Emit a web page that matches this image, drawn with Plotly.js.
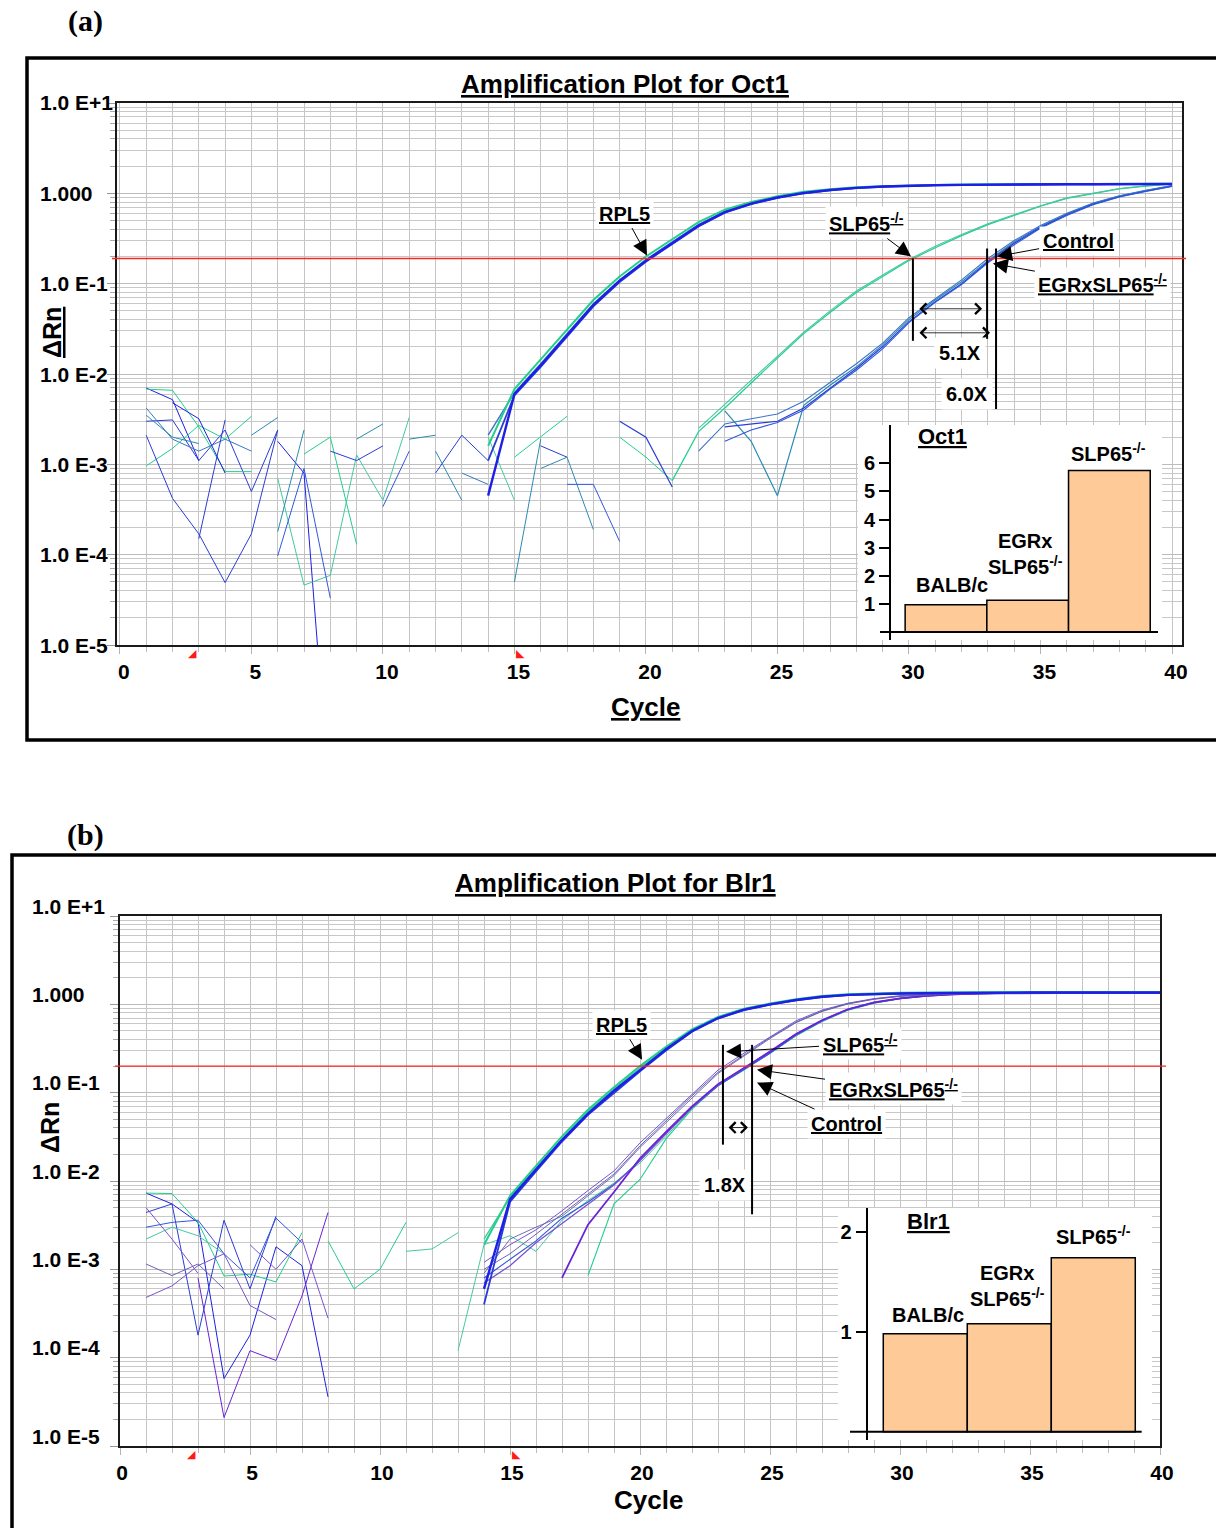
<!DOCTYPE html>
<html><head><meta charset="utf-8">
<script src="https://cdn.plot.ly/plotly-3.0.1.min.js"></script>
<style>html,body{margin:0;padding:0;background:#fff}#chart{width:1216px;height:1528px}</style>
</head><body><div id="chart"></div>
<script>
const N = null;
// ---------- DATA ----------
const cycles = [1,2,3,4,5,6,7,8,9,10,11,12,13,14,15,16,17,18,19,20,21,22,23,24,25,26,27,28,29,30,31,32,33,34,35,36,37,38,39,40];
const yTickVals = [1e-5, 1e-4, 1e-3, 1e-2, 1e-1, 1, 10];
const yTickText = ['1.0 E-5','1.0 E-4','1.0 E-3','1.0 E-2','1.0 E-1','1.000','1.0 E+1'];
const thresholds = [0.19, 0.20];          // panel a, panel b
const baselineCycles = [3, 15];
const ctCyclesA = [30.15, 32.97, 33.31];  // SLP65, EGRxSLP65, Control
const ctCyclesB = [23.19, 24.31];         // SLP65, Control/EGR
const insetGroups = ['BALB/c', 'EGRx SLP65-/-', 'SLP65-/-'];
const insetOct1 = [0.97, 1.13, 5.74];
const insetBlr1 = [0.98, 1.08, 1.74];

// Panel (a) amplification curves (one value per cycle)
const aRpl5Blue1 = [N,N,N,N,N,N,N,N,N,N,
 N,N,N,0.00045,0.0060,0.0125,0.027,0.058,0.108,0.180,
 0.28,0.44,0.62,0.77,0.90,1.01,1.09,1.15,1.19,1.22,
 1.23,1.24,1.25,1.25,1.26,1.26,1.26,1.26,1.27,1.27];
const aRpl5Blue2 = [N,N,N,N,N,N,N,N,N,N,
 N,N,N,0.0011,0.0058,0.0120,0.026,0.056,0.104,0.175,
 0.275,0.43,0.61,0.76,0.89,1.00,1.08,1.14,1.18,1.21,
 1.23,1.24,1.25,1.25,1.26,1.26,1.26,1.26,1.27,1.27];
const aRpl5Green = [N,N,N,N,N,N,N,N,N,N,
 N,N,N,0.0016,0.0068,0.0145,0.031,0.066,0.12,0.20,
 0.31,0.48,0.66,0.80,0.93,1.04,1.11,1.17,1.20,1.23,
 1.24,1.25,1.26,1.26,1.27,1.27,1.27,1.27,1.28,1.28];
const aRpl5Teal = [N,N,N,N,N,N,N,N,N,N,
 N,N,N,0.0021,0.0062,0.0130,0.028,0.060,0.110,0.185,
 0.29,0.45,0.63,0.78,0.91,1.02,1.10,1.15,1.19,1.22,
 1.23,1.24,1.25,1.25,1.26,1.26,1.26,1.26,1.27,1.27];
const aSlp1 = [N,N,N,N,N,N,N,N,N,N,
 N,N,N,N,N,N,N,N,N,N,
 0.00066,0.0023,0.0042,0.0080,0.0150,0.028,0.048,0.080,0.120,0.180,
 0.25,0.34,0.45,0.57,0.72,0.88,1.00,1.12,1.20,1.27];
const aSlp2 = [N,N,N,N,N,N,N,N,N,N,
 N,N,N,N,N,N,N,N,N,N,
 N,0.0025,0.0046,0.0085,0.0155,0.029,0.050,0.083,0.125,0.185,
 0.26,0.35,0.46,0.58,0.73,0.89,1.01,1.13,1.21,1.28];
const aCtl1 = [N,N,N,N,N,N,N,N,N,N,
 N,N,N,N,N,N,N,N,N,N,
 N,N,0.0039,0.0018,0.00045,0.0045,0.0075,0.012,0.021,0.040,
 0.066,0.105,0.18,0.29,0.43,0.59,0.77,0.93,1.07,1.21];
const aCtl2 = [N,N,N,N,N,N,N,N,N,N,
 N,N,N,N,N,N,N,N,0.0030,0.0020,
 0.00056,N,0.0026,0.0028,0.0030,0.0042,0.0070,0.0115,0.020,0.038,
 0.063,0.100,0.175,0.28,0.42,0.58,0.76,0.92,1.06,1.20];
const aCtl3 = [N,N,N,N,N,N,N,N,N,N,
 N,N,N,N,N,N,N,N,N,N,
 N,0.0014,0.0028,0.0032,0.0036,0.0050,0.0080,0.013,0.022,0.042,
 0.068,0.110,0.19,0.30,0.44,0.60,0.78,0.94,1.08,1.22];
const aCtl4 = [N,N,N,N,N,N,N,N,N,N,
 N,N,N,N,N,N,N,N,N,N,
 N,N,0.0018,0.0024,0.0029,0.0040,0.0068,0.011,0.019,0.037,
 0.062,0.098,0.17,0.27,0.41,0.57,0.75,0.91,1.05,1.19];
// Panel (a) baseline noise
const aNoise1 = [0.0070,0.0052,0.0011,N,N,0.0018,0.0008,1.5e-7,N,N, N,N,N,N,N,N,N,N,N,N, N,N,N,N,N,N,N,N,N,N, N,N,N,N,N,N,N,N,N,N];
const aNoise2 = [0.0030,0.0031,0.0011,0.0024,0.0005,0.0024,N,N,N,N, N,0.0008,0.0021,0.0011,N,N,N,N,N,N, N,N,N,N,N,N,N,N,N,N, N,N,N,N,N,N,N,N,N,N];
const aNoise3 = [0.0068,0.0066,0.0026,0.00083,0.00083,N,N,N,N,N, N,N,N,N,N,N,N,N,N,N, N,N,N,N,N,N,N,N,N,N, N,N,N,N,N,N,N,N,N,N];
const aNoise4 = [0.0042,0.0019,0.0014,0.0019,0.0014,N,N,N,N,N, N,N,0.0008,0.0006,N,N,N,N,N,N, N,N,N,N,N,N,N,N,N,N, N,N,N,N,N,N,N,N,N,N];
const aNoise5 = [0.00096,0.0015,0.0027,0.0019,0.0034,N,0.0013,0.0020,0.00013,N, N,N,N,N,0.0012,0.0020,0.0034,N,0.0020,0.0012, 0.00066,N,N,N,N,N,N,N,N,N, N,N,N,N,N,N,N,N,N,N];
const aNoise6 = [N,N,N,N,N,0.0007,0.000046,0.000059,0.00127,0.0004, 0.0033,N,N,0.0020,0.0004,N,N,N,N,N, N,N,N,N,N,N,N,N,N,N, N,N,N,N,N,N,N,N,N,N];
const aNoise7 = [0.0035,0.0020,0.0017,N,N,N,N,N,0.0019,0.0028, N,N,N,N,N,N,N,N,N,N, N,N,N,N,N,N,N,N,N,N, N,N,N,N,N,N,N,N,N,N];
const aNoise8 = [0.0021,0.00042,0.00017,0.000049,0.00017,0.0024,N,0.0014,0.0011,0.0016, N,N,N,N,N,0.0016,0.0012,N,N,N, N,N,N,N,N,N,N,N,N,N, N,N,N,N,N,N,N,N,N,N];
const aNoise9 = [N,N,N,N,0.0021,0.0033,N,N,N,N, 0.0019,0.0021,N,N,N,0.0009,0.0012,0.00019,N,N, N,N,N,N,N,N,N,N,N,N, N,N,N,N,N,N,N,N,N,N];
const aNoise10 = [N,N,N,N,N,0.000097,0.0009,0.000033,N,0.00034, 0.0014,N,N,N,N,N,0.0006,0.0006,0.00014,N, N,N,N,N,N,N,N,N,N,N, N,N,N,N,N,N,N,N,N,N];
const aNoise11 = [N,N,N,N,N,0.00018,0.0024,N,N,N, N,0.0014,0.0004,N,0.00005,0.0019,N,N,N,N, N,N,N,N,N,N,N,N,N,N, N,N,N,N,N,N,N,N,N,N];
const aNoise12 = [N,0.0048,0.0032,0.0008,N,N,N,N,N,N, N,N,N,N,N,N,N,N,N,N, N,N,N,N,N,N,N,N,N,N, N,N,N,N,N,N,N,N,N,N];
const aNoise13 = [N,N,0.00015,0.0031,N,N,N,N,N,N, N,N,N,N,N,N,N,N,N,N, N,N,N,N,N,N,N,N,N,N, N,N,N,N,N,N,N,N,N,N];

// Panel (b) amplification curves
const bRpl5Blue1 = [N,N,N,N,N,N,N,N,N,N,
 N,N,N,0.0006,0.0062,0.0135,0.029,0.058,0.105,0.18,
 0.31,0.50,0.70,0.87,1.00,1.12,1.22,1.28,1.31,1.33,
 1.34,1.35,1.35,1.35,1.36,1.36,1.36,1.36,1.36,1.36];
const bRpl5Green = [N,N,N,N,N,N,N,N,N,N,
 N,N,N,0.0019,0.0068,0.0148,0.032,0.064,0.115,0.20,
 0.33,0.52,0.72,0.89,1.02,1.14,1.24,1.30,1.33,1.35,
 1.36,1.37,1.37,1.38,1.38,1.38,1.38,1.38,1.38,1.38];
const bRpl5Blue2 = [N,N,N,N,N,N,N,N,N,N,
 N,N,N,0.0004,0.0058,0.0128,0.028,0.056,0.100,0.175,
 0.30,0.49,0.69,0.86,0.99,1.11,1.21,1.27,1.30,1.32,
 1.33,1.34,1.34,1.35,1.35,1.35,1.35,1.35,1.35,1.35];
const bRpl5Teal = [N,N,N,N,N,N,N,N,N,N,
 N,N,N,0.0022,0.0065,0.0140,0.030,0.061,0.110,0.19,
 0.32,0.51,0.71,0.88,1.01,1.13,1.23,1.29,1.32,1.34,
 1.35,1.36,1.36,1.37,1.37,1.37,1.37,1.37,1.37,1.37];
const bSlp1 = [N,N,N,N,N,N,N,N,N,N,
 N,N,N,0.0010,0.0015,0.0025,0.0042,0.0070,0.012,0.025,
 0.048,0.092,0.17,0.27,0.42,0.63,0.84,1.02,1.15,1.24,
 1.29,1.32,1.34,1.35,1.35,1.36,1.36,1.36,1.36,1.36];
const bSlp2 = [N,N,N,N,N,N,N,N,N,N,
 N,N,N,0.0012,0.0019,0.0028,0.0046,0.0078,0.013,0.027,
 0.051,0.096,0.18,0.28,0.43,0.65,0.86,1.03,1.16,1.25,
 1.30,1.33,1.35,1.36,1.36,1.37,1.37,1.37,1.37,1.37];
const bSlp3 = [N,N,N,N,N,N,N,N,N,N,
 N,N,N,0.0009,0.0022,0.0030,0.0040,0.0068,0.0115,0.024,
 0.046,0.088,0.165,0.26,0.41,0.62,0.83,1.01,1.14,1.23,
 1.28,1.31,1.33,1.34,1.34,1.35,1.35,1.35,1.35,1.35];
const bCtl1 = [N,N,N,N,N,N,N,N,N,N,
 N,N,N,N,N,N,0.0008,0.0032,0.0075,0.018,
 0.036,0.070,0.125,0.19,0.29,0.46,0.66,0.88,1.05,1.17,
 1.25,1.30,1.33,1.35,1.36,1.36,1.36,1.36,1.36,1.36];
const bCtl2 = [N,N,N,N,N,N,N,N,N,N,
 N,N,N,N,N,N,N,0.00085,0.0055,0.0104,
 0.030,0.065,0.12,0.185,0.28,0.44,0.64,0.86,1.03,1.16,
 1.25,1.31,1.35,1.37,1.38,1.38,1.38,1.38,1.38,1.38];
const bCtl3 = [N,N,N,N,N,N,N,N,N,N,
 N,N,0.00012,0.0019,0.0024,0.0016,0.0036,0.0060,0.0095,0.016,
 0.032,0.066,0.12,0.18,0.28,0.44,0.64,0.86,1.04,1.17,
 1.26,1.32,1.35,1.37,1.38,1.38,1.38,1.38,1.38,1.38];
const bCtl4 = [N,N,N,N,N,N,N,N,N,N,
 N,N,N,0.0008,0.0013,0.0021,0.0038,0.0058,0.0092,0.017,
 0.035,0.068,0.12,0.185,0.28,0.45,0.65,0.87,1.04,1.16,
 1.24,1.29,1.32,1.33,1.34,1.34,1.34,1.34,1.34,1.34];
const bCtl5 = [N,N,N,N,N,N,N,N,N,N,
 N,N,N,0.0007,0.0011,0.0020,0.0033,0.0055,0.0090,0.017,
 0.034,0.068,0.122,0.19,0.29,0.46,0.66,0.88,1.05,1.17,
 1.25,1.30,1.32,1.33,1.33,1.33,1.33,1.33,1.33,1.33];
// Panel (b) baseline noise
const bNoise1 = [0.0073,0.0055,0.0034,0.000058,0.00018,0.0018,0.0011,0.000036,N,N, N,N,N,N,N,N,N,N,N,N, N,N,N,N,N,N,N,N,N,N, N,N,N,N,N,N,N,N,N,N];
const bNoise2 = [0.0073,0.0072,0.0034,0.00084,0.00088,0.00072,0.0026,N,N,N, N,N,N,N,N,N,N,N,N,N, N,N,N,N,N,N,N,N,N,N, N,N,N,N,N,N,N,N,N,N];
const bNoise3 = [0.0044,0.0055,0.00018,0.0036,0.0006,0.0040,N,N,N,N, N,N,N,N,N,N,N,N,N,N, N,N,N,N,N,N,N,N,N,N, N,N,N,N,N,N,N,N,N,N];
const bNoise4 = [0.0022,0.0030,0.0024,0.0015,N,N,N,N,N,N, N,N,N,N,N,N,N,N,N,N, N,N,N,N,N,N,N,N,N,N, N,N,N,N,N,N,N,N,N,N];
const bNoise5 = [0.00115,0.00085,0.00115,0.0006,N,N,N,N,N,N, N,N,N,N,N,N,N,N,N,N, N,N,N,N,N,N,N,N,N,N, N,N,N,N,N,N,N,N,N,N];
const bNoise6 = [0.00048,0.00065,0.0011,0.0015,0.00039,0.00027,N,N,N,N, N,N,N,N,N,N,N,N,N,N, N,N,N,N,N,N,N,N,N,N, N,N,N,N,N,N,N,N,N,N];
const bNoise7 = [N,N,0.0008,0.000021,0.00012,0.000093,0.0005,0.0044,N,N, N,N,N,N,N,N,N,N,N,N, N,N,N,N,N,N,N,N,N,N, N,N,N,N,N,N,N,N,N,N];
const bNoise8 = [0.0050,0.0022,0.0009,N,0.0019,0.0010,0.0022,0.00028,N,N, N,N,N,N,N,N,N,N,N,N, N,N,N,N,N,N,N,N,N,N, N,N,N,N,N,N,N,N,N,N];
const bNoise9 = [N,N,N,N,N,N,N,0.0021,0.0006,0.0010, 0.0034,N,N,N,N,N,N,N,N,N, N,N,N,N,N,N,N,N,N,N, N,N,N,N,N,N,N,N,N,N];
const bNoise10 = [N,N,N,N,N,N,N,N,N,N, 0.0016,0.0017,0.0026,N,N,N,N,N,N,N, N,N,N,N,N,N,N,N,N,N, N,N,N,N,N,N,N,N,N,N];
const bNoise11 = [0.0030,0.0034,0.0036,0.0015,0.0008,0.0038,0.0020,N,N,N, N,N,N,N,N,N,N,N,N,N, N,N,N,N,N,N,N,N,N,N, N,N,N,N,N,N,N,N,N,N];

// ---------- LAYOUT HELPERS ----------
const W = 1216, H = 1528;
const fx = p => p / W;
const fy = p => 1 - p / H;
const FONT = 'Liberation Sans, Arial, Helvetica, sans-serif';
const SERIF = 'Liberation Serif, Times New Roman, serif';
const F = (size, extra) => Object.assign({family: FONT, size: size, color: '#000', weight: 'bold'}, extra || {});

const C = {
  blue: '#1d1fe4', blue2: '#2b3cd6', blue3: '#3058de', green: '#21cf8b', green2: '#45c8a3',
  teal: '#2a8ab2', teal2: '#3a74c6', purple: '#6a22d6', purple2: '#7a52d0', slate: '#6a64b6', slate2: '#5f60a8'
};

function curve(name, vals, xa, ya, color, width) {
  if (vals.length !== cycles.length) throw new Error('length mismatch in ' + name + ': ' + vals.length);
  return {type: 'scatter', mode: 'lines', name: name, x: cycles, y: vals, xaxis: xa, yaxis: ya,
    line: {color: color, width: width}, connectgaps: false, hoverinfo: 'skip', showlegend: false};
}

const traces = [
  // panel a noise
  curve('aNoise1', aNoise1, 'x', 'y', C.blue, 1),
  curve('aNoise2', aNoise2, 'x', 'y', C.blue2, 1),
  curve('aNoise3', aNoise3, 'x', 'y', C.green, 1),
  curve('aNoise4', aNoise4, 'x', 'y', C.teal2, 1),
  curve('aNoise5', aNoise5, 'x', 'y', C.green, 1),
  curve('aNoise6', aNoise6, 'x', 'y', C.green2, 1),
  curve('aNoise7', aNoise7, 'x', 'y', C.teal, 1),
  curve('aNoise8', aNoise8, 'x', 'y', C.blue2, 1),
  curve('aNoise9', aNoise9, 'x', 'y', C.teal, 1),
  curve('aNoise10', aNoise10, 'x', 'y', C.blue3, 1),
  curve('aNoise11', aNoise11, 'x', 'y', C.teal, 1),
  curve('aNoise12', aNoise12, 'x', 'y', C.blue, 1),
  curve('aNoise13', aNoise13, 'x', 'y', C.blue2, 1),
  // panel a curves
  curve('aCtl1', aCtl1, 'x', 'y', C.teal, 1.2),
  curve('aCtl2', aCtl2, 'x', 'y', C.blue2, 1.2),
  curve('aCtl3', aCtl3, 'x', 'y', C.teal2, 1.1),
  curve('aCtl4', aCtl4, 'x', 'y', C.blue3, 1.1),
  curve('aSlp1', aSlp1, 'x', 'y', C.green, 1.2),
  curve('aSlp2', aSlp2, 'x', 'y', C.green2, 1.1),
  curve('aRpl5Teal', aRpl5Teal, 'x', 'y', C.teal2, 1.4),
  curve('aRpl5Green', aRpl5Green, 'x', 'y', C.green, 2),
  curve('aRpl5Blue2', aRpl5Blue2, 'x', 'y', C.blue2, 1.8),
  curve('aRpl5Blue1', aRpl5Blue1, 'x', 'y', C.blue, 2.4),
  // panel b noise
  curve('bNoise1', bNoise1, 'x2', 'y2', C.blue, 1),
  curve('bNoise2', bNoise2, 'x2', 'y2', C.green, 1),
  curve('bNoise3', bNoise3, 'x2', 'y2', C.blue2, 1),
  curve('bNoise4', bNoise4, 'x2', 'y2', C.green2, 1),
  curve('bNoise5', bNoise5, 'x2', 'y2', C.slate, 1),
  curve('bNoise6', bNoise6, 'x2', 'y2', C.purple2, 1),
  curve('bNoise7', bNoise7, 'x2', 'y2', C.purple, 1),
  curve('bNoise8', bNoise8, 'x2', 'y2', C.purple2, 1),
  curve('bNoise9', bNoise9, 'x2', 'y2', C.green, 1),
  curve('bNoise10', bNoise10, 'x2', 'y2', C.green2, 1),
  curve('bNoise11', bNoise11, 'x2', 'y2', C.blue3, 1),
  // panel b curves
  curve('bCtl2', bCtl2, 'x2', 'y2', C.green, 1.1),
  curve('bCtl3', bCtl3, 'x2', 'y2', C.green2, 1.0),
  curve('bCtl4', bCtl4, 'x2', 'y2', C.blue3, 1.2),
  curve('bCtl5', bCtl5, 'x2', 'y2', C.purple2, 1.3),
  curve('bCtl1', bCtl1, 'x2', 'y2', C.purple, 1.8),
  curve('bSlp1', bSlp1, 'x2', 'y2', C.slate, 1.0),
  curve('bSlp2', bSlp2, 'x2', 'y2', C.purple2, 1.0),
  curve('bSlp3', bSlp3, 'x2', 'y2', C.slate2, 0.9),
  curve('bRpl5Teal', bRpl5Teal, 'x2', 'y2', C.green2, 1.4),
  curve('bRpl5Green', bRpl5Green, 'x2', 'y2', C.green, 2),
  curve('bRpl5Blue2', bRpl5Blue2, 'x2', 'y2', C.blue2, 1.8),
  curve('bRpl5Blue1', bRpl5Blue1, 'x2', 'y2', C.blue, 2.4),
  // insets
  {type: 'bar', x: insetGroups, y: insetOct1, xaxis: 'x3', yaxis: 'y3', width: 1,
   marker: {color: '#fdca98', line: {color: '#000', width: 1.5}}, hoverinfo: 'skip', showlegend: false},
  {type: 'bar', x: insetGroups, y: insetBlr1, xaxis: 'x4', yaxis: 'y4', width: 1,
   marker: {color: '#fdca98', line: {color: '#000', width: 1.5}}, hoverinfo: 'skip', showlegend: false}
];

function mainX(domain, range, anchor, shift) {
  return {domain: domain, range: range, anchor: anchor, dtick: 5, tick0: 0,
    showgrid: true, gridcolor: '#c4c4c4', gridwidth: 1, zeroline: false,
    ticks: 'outside', ticklen: 7, tickcolor: '#b4b4b4', tickwidth: 1,
    minor: {dtick: 1, showgrid: true, gridcolor: '#c4c4c4', gridwidth: 1, ticks: 'outside', ticklen: 5, tickcolor: '#bdbdbd'},
    showline: true, linecolor: '#1a1a1a', linewidth: 2, mirror: true,
    tickfont: F(21), ticklabelshift: shift};
}
function mainY(domain, anchor) {
  return {domain: domain, type: 'log', range: [-5, 1], anchor: anchor, dtick: 1,
    showgrid: true, gridcolor: '#bcbcbc', gridwidth: 1, zeroline: false,
    ticks: 'outside', ticklen: 8, tickcolor: '#999', showticklabels: false,
    minor: {dtick: 'D1', showgrid: true, gridcolor: '#c8c8c8', gridwidth: 1, ticks: 'outside', ticklen: 5, tickcolor: '#aaa'},
    showline: true, linecolor: '#1a1a1a', linewidth: 2, mirror: true};
}
function insetY(domain, range, pos, tv) {
  return {domain: domain, range: range, anchor: 'free', position: pos, showgrid: false, zeroline: false,
    showline: true, linecolor: '#000', linewidth: 2, ticks: 'outside', ticklen: 10, tickwidth: 2, tickcolor: '#000',
    tickvals: tv, tickfont: F(20)};
}

const layout = {
  width: W, height: H, autosize: false,
  margin: {l: 0, r: 0, t: 0, b: 0, pad: 0},
  paper_bgcolor: '#fff', plot_bgcolor: '#ffffff',
  font: {family: FONT, color: '#000'},
  showlegend: false,
  xaxis: mainX([fx(117), fx(1182)], [-0.11, 40.38], 'y', 4),
  yaxis: mainY([fy(645), fy(103)], 'x'),
  xaxis2: mainX([fx(120), fx(1160)], [0, 40], 'y2', 2),
  yaxis2: mainY([fy(1446), fy(916)], 'x2'),
  xaxis3: {domain: [fx(858), fx(1162)], range: [-1.077, 2.644], anchor: 'y3', visible: false, type: 'category'},
  yaxis3: insetY([fy(640), fy(425)], [-0.281, 7.36], fx(890), [1, 2, 3, 4, 5, 6]),
  xaxis4: {domain: [fx(838), fx(1152)], range: [-1.039, 2.699], anchor: 'y4', visible: false, type: 'category'},
  yaxis4: insetY([fy(1440), fy(1208)], [-0.083, 2.237], fx(866.7), [1, 2]),
  bargap: 0,
  shapes: [],
  annotations: []
};

const S = layout.shapes, A = layout.annotations;
// outer frames
S.push({type: 'rect', xref: 'paper', yref: 'paper', x0: fx(27), x1: 1.05, y0: fy(740), y1: fy(58), line: {color: '#000', width: 3.5}});
S.push({type: 'rect', xref: 'paper', yref: 'paper', x0: fx(12), x1: 1.05, y0: -0.05, y1: fy(855), line: {color: '#000', width: 3.5}});
// thresholds
S.push({type: 'line', xref: 'paper', yref: 'y', x0: fx(112), x1: fx(1186), y0: thresholds[0], y1: thresholds[0], line: {color: '#ff2424', width: 1.3}});
S.push({type: 'line', xref: 'paper', yref: 'y2', x0: fx(115), x1: fx(1166), y0: thresholds[1], y1: thresholds[1], line: {color: '#ff2424', width: 1.3}});
// Ct marker lines
S.push({type: 'line', xref: 'x', yref: 'y', x0: ctCyclesA[0], x1: ctCyclesA[0], y0: thresholds[0], y1: 0.0233, line: {color: '#000', width: 2}});
S.push({type: 'line', xref: 'x', yref: 'y', x0: ctCyclesA[1], x1: ctCyclesA[1], y0: 0.245, y1: 0.0245, line: {color: '#000', width: 2}});
S.push({type: 'line', xref: 'x', yref: 'y', x0: ctCyclesA[2], x1: ctCyclesA[2], y0: 0.245, y1: 0.0041, line: {color: '#000', width: 2}});
S.push({type: 'line', xref: 'x2', yref: 'y2', x0: ctCyclesB[0], x1: ctCyclesB[0], y0: 0.348, y1: 0.0258, line: {color: '#000', width: 2}});
S.push({type: 'line', xref: 'x2', yref: 'y2', x0: ctCyclesB[1], x1: ctCyclesB[1], y0: 0.348, y1: 0.0042, line: {color: '#000', width: 2}});
// inset baselines
S.push({type: 'line', xref: 'x3', yref: 'y3', x0: -0.808, x1: 2.595, y0: 0, y1: 0, line: {color: '#000', width: 2}});
S.push({type: 'line', xref: 'x4', yref: 'y4', x0: -0.896, x1: 2.576, y0: 0, y1: 0, line: {color: '#000', width: 2}});

// free text helper (centered)
function ptext(text, x, y, font, extra) {
  A.push(Object.assign({text: text, xref: 'paper', yref: 'paper', x: fx(x), y: fy(y), xanchor: 'center', yanchor: 'middle', showarrow: false, font: font}, extra || {}));
}
const serifFont = {family: SERIF, size: 30, weight: 'bold', color: '#000'};
ptext('(a)', 85, 21, serifFont);
ptext('(b)', 85, 835, serifFont);
ptext('<u>Amplification Plot for Oct1</u>', 625, 84, F(26));
ptext('<u>Amplification Plot for Blr1</u>', 615, 883, F(26));
ptext('<u>Cycle</u>', 645, 707, F(26));
ptext('Cycle', 648, 1500, F(26));
ptext('<u>ΔRn</u>', 52, 333, F(25), {textangle: -90});
ptext('ΔRn', 50, 1128, F(25), {textangle: -90});
ptext('<u>Oct1</u>', 942, 437, F(22));
ptext('<u>Blr1</u>', 928, 1221, F(22));

// y tick labels (left aligned)
yTickVals.forEach((v, i) => {
  A.push({text: yTickText[i], xref: 'paper', yref: 'y', x: fx(38), y: Math.log10(v), xanchor: 'left', yanchor: 'middle', showarrow: false, font: F(21)});
  A.push({text: yTickText[i], xref: 'paper', yref: 'y2', x: fx(30), y: Math.log10(v), yshift: 10, xanchor: 'left', yanchor: 'middle', showarrow: false, font: F(21)});
});
// baseline range markers
baselineCycles.forEach((c, i) => {
  const m = {text: i === 0 ? '◢' : '◣', yanchor: 'top', xanchor: i === 0 ? 'right' : 'left', showarrow: false, font: {family: 'DejaVu Sans', size: 11, color: '#ff1a1a'}};
  A.push(Object.assign({xref: 'x', yref: 'y', x: c, y: -5}, m));
  A.push(Object.assign({xref: 'x2', yref: 'y2', x: c, y: -5}, m));
});

const L = Math.log10;
function label(text, xa, ya, x, y, ax, ay) {
  A.push({text: text, xref: xa, yref: ya, x: x, y: y, ax: ax, ay: ay, showarrow: true,
    arrowhead: 2, arrowsize: 3, arrowwidth: 1, arrowcolor: '#000', standoff: 0,
    bgcolor: '#fff', borderpad: 3, font: F(20)});
}
// panel a labels
label('<u>RPL5</u>', 'x', 'y', 20.04, L(0.205), -23, -42);
label('<u>SLP65<sup>-/-</sup></u>', 'x', 'y', 30.08, L(0.2), -45, -34);
label('<u>Control</u>', 'x', 'y', 33.35, L(0.2), 81, -15);
label('<u>EGRxSLP65<sup>-/-</sup></u>', 'x', 'y', 33.19, L(0.167), 110, 20);
// panel b labels
label('<u>RPL5</u>', 'x2', 'y2', 20.08, L(0.236), -21, -35);
label('<u>SLP65<sup>-/-</sup></u>', 'x2', 'y2', 23.31, L(0.29), 134, -8);
label('<u>EGRxSLP65<sup>-/-</sup></u>', 'x2', 'y2', 24.5, L(0.182), 136, 19);
label('<u>Control</u>', 'x2', 'y2', 24.5, L(0.13), 89, 41);

function dbl(xa, ya, x0, x1, y) {
  A.push({text: '', xref: xa, yref: ya, axref: xa, ayref: ya, x: x1, y: y, ax: x0, ay: y, showarrow: true,
    arrowside: 'end+start', arrowhead: 4, startarrowhead: 4, arrowsize: 2.6, startarrowsize: 2.6, arrowwidth: 0.8, arrowcolor: '#000'});
}
dbl('x', 'y', 30.34, 32.78, -1.278);
dbl('x', 'y', 30.34, 33.08, -1.544);
dbl('x2', 'y2', 23.35, 24.15, -1.395);
function boxText(text, xa, ya, x, y) {
  A.push({text: text, xref: xa, yref: ya, x: x, y: y, showarrow: false, bgcolor: '#fff', borderpad: 4, font: F(20)});
}
boxText('5.1X', 'x', 'y', 31.94, -1.767);
boxText('6.0X', 'x', 'y', 32.2, -2.222);
boxText('1.8X', 'x2', 'y2', 23.27, -2.04);

// bar labels
const barLabelText = ['BALB/c', 'EGRx<br>SLP65<sup>-/-</sup>', 'SLP65<sup>-/-</sup>'];
const shiftA = [[6, 7], [-2, 20], [-1, 4]];
const shiftB = [[3, 6], [-2, 12], [0, 8]];
barLabelText.forEach((t, i) => {
  A.push({text: t, xref: 'x3', yref: 'y3', x: i, y: insetOct1[i], xshift: shiftA[i][0], yshift: shiftA[i][1], xanchor: 'center', yanchor: 'bottom', showarrow: false, font: F(20)});
  A.push({text: t, xref: 'x4', yref: 'y4', x: i, y: insetBlr1[i], xshift: shiftB[i][0], yshift: shiftB[i][1], xanchor: 'center', yanchor: 'bottom', showarrow: false, font: F(20)});
});

Plotly.newPlot('chart', traces, layout, {staticPlot: true, displayModeBar: false});
</script></body></html>
